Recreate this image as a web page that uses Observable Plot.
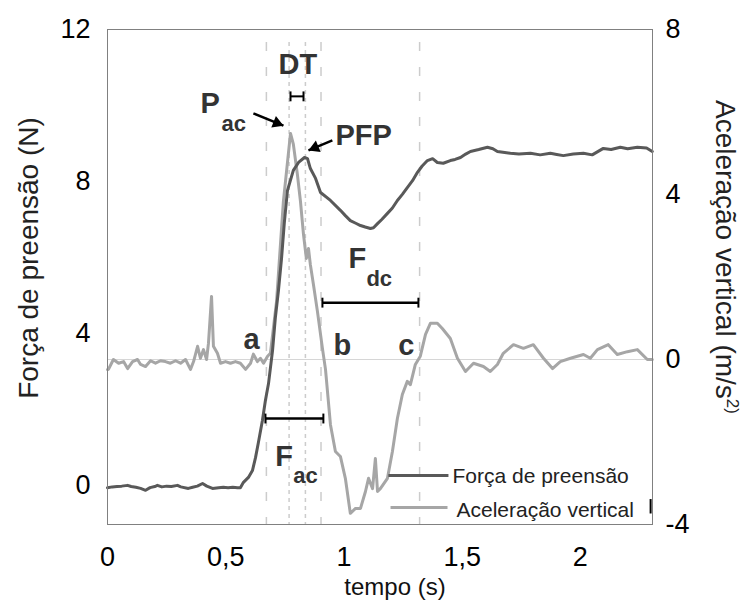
<!DOCTYPE html>
<html>
<head>
<meta charset="utf-8">
<script src="https://cdn.jsdelivr.net/npm/d3@7"></script>
<script src="https://cdn.jsdelivr.net/npm/@observablehq/plot@0.6"></script>
<style>
  html, body { margin: 0; padding: 0; background: #fff; }
  #chart { width: 749px; height: 601px; }
</style>
</head>
<body>
<div id="chart"></div>
<script>
// ---------- data ----------
const xTicks = [0, 0.5, 1, 1.5, 2];
const forceTicks = [0, 4, 8, 12];
const accTicks = [-4, 0, 4, 8];
const timeDomain = [0, 2.305];
const forceDomain = [-1.03, 12];
const accDomain = [-4, 8];

const forceTime = [0, .02, .04, .06, .085, .10, .12, .14, .161, .18, .20, .211, .23, .25, .27, .296, .31, .342, .36, .38, .402, .42, .444, .47, .49, .51, .53, .55, .562,
  .575, .596, .613, .626, .638, .655, .668, .681, .698, .710, .723, .736, .748, .761, .786, .808, .833, .846, .858, .880, .901,
  .943, .985, 1.006, 1.027, 1.050, 1.070, 1.090, 1.112, 1.125, 1.142, 1.160, 1.184, 1.205, 1.226, 1.247, 1.268, 1.290, 1.311, 1.330, 1.353,
  1.375, 1.395, 1.420, 1.450, 1.470, 1.493, 1.515, 1.535, 1.570, 1.607, 1.630, 1.649, 1.680, 1.704, 1.740, 1.789, 1.830, 1.873, 1.900, 1.928, 1.970, 2.013, 2.050, 2.097, 2.130, 2.169, 2.200, 2.241, 2.280, 2.304];
const forceValues = [-.06, -.04, -.03, -.02, .00, -.03, -.05, -.08, -.13, -.06, -.03, .00, -.04, -.02, -.03, .00, -.04, -.08, -.05, -.02, .05, -.02, -.08, -.06, -.05, -.06, -.05, -.06, -.06,
  .08, .21, .39, .73, 1.12, 1.70, 2.24, 2.68, 3.55, 4.42, 5.13, 5.97, 6.92, 7.76, 8.29, 8.50, 8.63, 8.60, 8.34, 8.08, 7.71,
  7.50, 7.24, 7.10, 6.97, 6.90, 6.84, 6.80, 6.76, 6.78, 6.89, 7.00, 7.16, 7.30, 7.50, 7.66, 7.84, 8.02, 8.24, 8.40, 8.55,
  8.60, 8.50, 8.48, 8.55, 8.58, 8.63, 8.72, 8.79, 8.84, 8.90, 8.86, 8.79, 8.76, 8.74, 8.72, 8.74, 8.70, 8.74, 8.71, 8.68, 8.72, 8.74, 8.70, 8.87, 8.84, 8.90, 8.86, 8.90, 8.88, 8.79];

const accTime = [0, .004, .025, .047, .068, .085, .106, .127, .140, .161, .182, .203, .224, .245, .266, .288, .309, .330, .351, .364, .381, .393, .406, .419, .427, .440, .448, .465, .478, .499, .520, .541, .562, .584, .605, .617, .634, .647, .660, .677, .689,
  .715, .744, .774, .786, .803, .816, .829, .841, .850, .858, .871, .888, .909, .922, .943, .964, .985, 1.006, 1.027, 1.049, 1.070, 1.091, 1.104, 1.121, 1.133, 1.142, 1.154, 1.184, 1.205, 1.226, 1.247, 1.268, 1.281, 1.302, 1.323, 1.345, 1.366, 1.395, 1.416, 1.450, 1.480, 1.514, 1.548, 1.590, 1.619, 1.649, 1.674, 1.717, 1.759, 1.801, 1.844, 1.882, 1.915, 1.958, 2.013, 2.042, 2.072, 2.118, 2.156, 2.199, 2.241, 2.283, 2.304];
const accValues = [-.24, -.24, 0, -.09, -.05, -.22, -.05, 0, -.12, -.17, -.03, -.09, -.03, -.05, -.09, -.03, -.09, 0, -.24, -.05, .32, .03, .24, 0, .39, 1.53, .32, .15, -.09, -.05, -.09, -.05, -.09, -.24, -.09, .13, -.05, .03, -.09, .08, .15,
  1.41, 3.84, 5.48, 5.22, 4.49, 3.84, 3.03, 2.45, 2.69, 2.30, 1.82, 1.16, .27, -.24, -1.58, -2.23, -2.35, -2.88, -3.73, -3.61, -3.61, -3.20, -2.88, -3.13, -2.40, -3.20, -3.13, -2.88, -2.23, -1.43, -.85, -.53, -.61, -.12, .08, .61, .88, .88, .75, .51, .03, -.29, -.09, -.17, -.29, -.12, .15, .36, .27, .36, .03, -.22, -.05, .03, .12, .03, .24, .36, .12, .19, .24, 0, 0];

const dashedTimes = [0.672, 0.903, 1.320];
const dottedTimes = [0.768, 0.837];
const guideTop = 11.66;

const intervals = [
  {name: "DT", t1: 0.774, t2: 0.829, f: 10.24, w: 2, cap: 0.13},
  {name: "Fdc", t1: 0.909, t2: 1.315, f: 4.81, w: 2.5, cap: 0.13},
  {name: "Fac", t1: 0.668, t2: 0.913, f: 1.76, w: 2.5, cap: 0.13}
];
const bigLabels = [
  {s: "DT", t: 0.723, f: 10.84},
  {s: "P", t: 0.393, f: 9.79},
  {s: "PFP", t: 0.964, f: 8.95},
  {s: "F", t: 1.019, f: 5.73},
  {s: "F", t: 0.710, f: 0.52},
  {s: "a", t: 0.575, f: 3.58},
  {s: "b", t: 0.956, f: 3.42},
  {s: "c", t: 1.230, f: 3.42}
];
const subLabels = [
  {s: "ac", t: 0.482, f: 9.34},
  {s: "dc", t: 1.095, f: 5.26},
  {s: "ac", t: 0.786, f: 0.05}
];
const arrowPac = {t1: 0.617, f1: 9.79, t2: 0.744, f2: 9.47};
const arrowPFP = {t1: 0.951, f1: 9.08, t2: 0.850, f2: 8.82};

const legendNames = ["Força de preensão", "Aceleração vertical"];
const legendColors = ["#595959", "#a6a6a6"];
const legendLineT = [[1.188, 1.442], [1.197, 1.438]];
const legendLineF = [0.26, -0.58];
const legendTextT = [1.459, 1.476];
const legendTextF = [0.05, -0.82];

// ---------- helpers ----------
const toF = a => forceDomain[0] + (a - accDomain[0]) * (forceDomain[1] - forceDomain[0]) / (accDomain[1] - accDomain[0]);
const fromF = f => accDomain[0] + (f - forceDomain[0]) * (accDomain[1] - accDomain[0]) / (forceDomain[1] - forceDomain[0]);

const force = forceTime.map((t, i) => ({t, f: forceValues[i]}));
const acc = accTime.map((t, i) => ({t, a: accValues[i]}));
const caps = intervals.flatMap(d => [{t: d.t1, f: d.f, cap: d.cap, w: d.w}, {t: d.t2, f: d.f, cap: d.cap, w: d.w}]);
const legend = legendNames.map((name, i) => ({name, color: legendColors[i], t1: legendLineT[i][0], t2: legendLineT[i][1], f: legendLineF[i], tt: legendTextT[i], tf: legendTextF[i]}));

const font = "'Liberation Sans', Arial, Helvetica, sans-serif";
const ink = "#333";

const chart = Plot.plot({
  width: 749,
  height: 601,
  marginLeft: 107,
  marginRight: 97,
  marginTop: 29,
  marginBottom: 77,
  x: {domain: timeDomain},
  y: {domain: forceDomain},
  style: {fontFamily: font, background: "#fff", color: "#000"},
  marks: [
    Plot.ruleY([toF(0)], {stroke: "#d6d6d6", strokeWidth: 1.2}),
    Plot.ruleX(dashedTimes, {x: d => d, y1: guideTop, y2: forceDomain[0], stroke: "#cccccc", strokeWidth: 1.5, strokeDasharray: "9,16"}),
    Plot.ruleX(dottedTimes, {x: d => d, y1: guideTop, y2: forceDomain[0], stroke: "#cccccc", strokeWidth: 1.5, strokeDasharray: "4,4"}),
    Plot.line(acc, {x: "t", y: d => toF(d.a), stroke: legendColors[1], strokeWidth: 3, strokeLinejoin: "round"}),
    Plot.line(force, {x: "t", y: "f", stroke: legendColors[0], strokeWidth: 3, strokeLinejoin: "round"}),
    Plot.frame({stroke: "#808080", strokeWidth: 1}),
    // interval bars
    Plot.link(intervals, {x1: "t1", x2: "t2", y1: "f", y2: "f", stroke: "#000", strokeWidth: d => d.w}),
    Plot.link(caps, {x1: "t", x2: "t", y1: d => d.f - d.cap, y2: d => d.f + d.cap, stroke: "#000", strokeWidth: 2}),
    // arrows
    Plot.link([arrowPac, arrowPFP], {x1: "t1", y1: "f1", x2: "t2", y2: "f2", stroke: "#000", strokeWidth: 2.5}),
    Plot.dot([arrowPac], {x: "t2", y: "f2", symbol: "triangle", r: 4.6, fill: "#000", stroke: "none", rotate: 112, dx: -6.5, dy: -2.6}),
    Plot.dot([arrowPFP], {x: "t2", y: "f2", symbol: "triangle", r: 4.6, fill: "#000", stroke: "none", rotate: 247, dx: 6.5, dy: -2.7}),
    // annotation text
    Plot.text(bigLabels, {x: "t", y: "f", text: "s", textAnchor: "start", lineAnchor: "bottom", fontSize: 29, fontWeight: "bold", fill: ink}),
    Plot.text(subLabels, {x: "t", y: "f", text: "s", textAnchor: "start", lineAnchor: "bottom", fontSize: 22, fontWeight: "bold", fill: ink}),
    // legend
    Plot.link(legend, {x1: "t1", x2: "t2", y1: "f", y2: "f", stroke: "color", strokeWidth: 3}),
    Plot.text(legend, {x: "tt", y: "tf", text: "name", textAnchor: "start", lineAnchor: "bottom", fontSize: 21, fill: "#222"}),
    Plot.link([{t: 2.297}], {x1: "t", x2: "t", y1: -0.36, y2: -0.74, stroke: "#000", strokeWidth: 2}),
    // axes
    Plot.axisX({ticks: xTicks, tickFormat: d => String(d).replace(".", ","), tickSize: 0, tickPadding: 22, fontSize: 27, label: null}),
    Plot.axisY({ticks: forceTicks, tickFormat: d => String(d), tickSize: 0, tickPadding: 17, fontSize: 27, label: null}),
    Plot.axisY({anchor: "right", ticks: accTicks.map(toF), tickFormat: d => String(Math.round(fromF(d))), tickSize: 0, tickPadding: 13, fontSize: 27, label: null})
  ]
});

document.getElementById("chart").appendChild(chart);

// axis titles
const svg = d3.select(chart);
svg.append("text")
  .attr("transform", "translate(38,258) rotate(-90)")
  .attr("text-anchor", "middle")
  .attr("font-family", font).attr("font-size", 28).attr("fill", "#222")
  .text("Força de preensão (N)");
const rt = svg.append("text")
  .attr("transform", "translate(716,257) rotate(90)")
  .attr("text-anchor", "middle")
  .attr("font-family", font).attr("font-size", 28).attr("fill", "#222");
rt.append("tspan").text("Aceleração vertical (m/s");
rt.append("tspan").attr("font-size", 17).attr("dy", "-11").text("2)");
svg.append("text")
  .attr("x", 395).attr("y", 595)
  .attr("text-anchor", "middle")
  .attr("font-family", font).attr("font-size", 24).attr("fill", "#111")
  .text("tempo (s)");
</script>
</body>
</html>
